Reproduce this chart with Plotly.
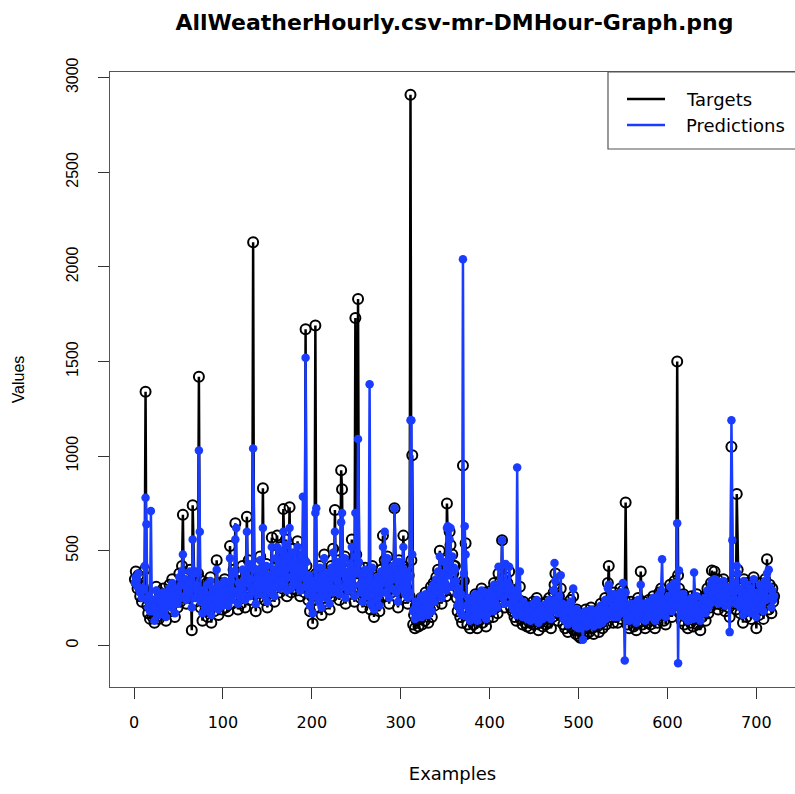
import plotly.graph_objects as go

# Hourly weather model: observed targets vs. model predictions, per example
targets = [
    350, 390, 330, 300, 370, 320, 260, 290, 230, 310, 270, 400, 1340, 280, 210, 170, 240, 140, 270, 190,
    150, 260, 120, 200, 310, 180, 230, 140, 280, 210, 170, 250, 300, 160, 220, 130, 270, 190, 240, 320,
    260, 180, 350, 220, 290, 150, 240, 310, 200, 270, 380, 230, 330, 420, 690, 300, 250, 360, 220, 280,
    330, 250, 400, 310, 80, 740, 360, 290, 230, 310, 270, 380, 1420, 350, 200, 260, 130, 300, 240, 180,
    220, 330, 150, 270, 200, 360, 120, 250, 310, 180, 240, 290, 450, 210, 160, 270, 330, 230, 190, 300,
    260, 350, 200, 310, 240, 180, 290, 525, 330, 220, 280, 400, 350, 645, 300, 250, 190, 340, 280, 220,
    310, 420, 260, 350, 200, 380, 680, 300, 450, 240, 360, 280, 400, 2130, 350, 270, 180, 310, 420, 250,
    330, 470, 280, 390, 830, 300, 240, 360, 430, 200, 310, 380, 260, 340, 570, 290, 410, 230, 350, 480,
    580, 320, 450, 280, 520, 390, 300, 720, 430, 350, 560, 260, 400, 480, 730, 340, 280, 420, 510, 300,
    380, 460, 290, 550, 340, 420, 260, 500, 370, 450, 330, 280, 1670, 420, 300, 240, 360, 180, 310, 260,
    115, 330, 240, 1690, 380, 280, 350, 200, 420, 290, 160, 370, 250, 480, 310, 220, 390, 270, 340, 190,
    300, 420, 260, 510, 350, 715, 280, 400, 330, 450, 240, 380, 925, 825, 350, 290, 470, 220, 360, 300,
    380, 270, 440, 320, 560, 290, 400, 230, 1730, 480, 350, 1830, 420, 300, 250, 380, 200, 330, 270, 410,
    300, 230, 380, 260, 340, 190, 290, 420, 250, 150, 330, 270, 210, 360, 240, 180, 310, 400, 260, 580,
    320, 450, 260, 390, 470, 300, 220, 410, 350, 280, 430, 330, 725, 380, 260, 340, 200, 450, 310, 370,
    290, 420, 580, 340, 250, 400, 300, 220, 370, 260, 2910, 450, 1005, 110, 160, 90, 210, 130, 180, 100,
    200, 140, 250, 110, 180, 230, 130, 280, 170, 220, 120, 260, 190, 310, 150, 240, 330, 210, 280, 360,
    290, 400, 250, 500, 330, 220, 380, 280, 450, 310, 260, 750, 420, 350, 600, 530, 290, 480, 380, 420,
    420, 330, 250, 180, 290, 210, 150, 260, 120, 950, 340, 230, 540, 180, 110, 240, 160, 90, 200, 140,
    230, 110, 180, 270, 150, 90, 210, 130, 250, 170, 300, 120, 200, 160, 280, 100, 220, 140, 190, 260,
    180, 290, 220, 150, 330, 240, 200, 310, 170, 380, 260, 340, 290, 555, 230, 310, 200, 360, 270, 330,
    260, 390, 300, 200, 250, 180, 290, 150, 220, 130, 200, 170, 240, 310, 140, 190, 110, 230, 160, 120,
    180, 100, 150, 210, 120, 90, 170, 140, 230, 110, 160, 200, 250, 130, 80, 180, 120, 150, 220, 100,
    140, 190, 110, 230, 160, 120, 250, 180, 90, 210, 150, 280, 320, 380, 220, 170, 130, 260, 190, 300,
    160, 220, 110, 180, 90, 140, 200, 70, 150, 120, 240, 100, 170, 260, 80, 130, 60, 190, 110, 50,
    120, 40, 160, 80, 50, 140, 90, 190, 60, 110, 170, 70, 130, 200, 90, 150, 60, 180, 110, 140,
    100, 180, 70, 150, 220, 120, 90, 200, 140, 250, 110, 170, 330, 420, 230, 150, 260, 190, 120, 280,
    200, 150, 260, 120, 230, 170, 300, 140, 210, 290, 180, 240, 755, 160, 110, 200, 90, 170, 230, 130,
    190, 100, 220, 150, 80, 180, 250, 120, 200, 390, 160, 110, 230, 140, 90, 210, 170, 120, 240, 150,
    110, 200, 140, 260, 170, 90, 230, 150, 120, 210, 280, 160, 300, 250, 190, 130, 240, 110, 180, 220,
    260, 180, 320, 210, 150, 280, 230, 340, 190, 250, 1500, 370, 300, 170, 240, 130, 200, 270, 110, 190,
    150, 240, 90, 180, 210, 120, 260, 160, 100, 230, 190, 140, 270, 110, 200, 170, 80, 220, 150, 250,
    180, 260, 130, 220, 300, 170, 240, 200, 330, 395, 260, 310, 390, 280, 220, 350, 190, 270, 320, 240,
    300, 210, 350, 260, 180, 320, 240, 280, 200, 150, 330, 1050, 300, 260, 220, 340, 190, 800, 400, 280,
    230, 170, 310, 260, 120, 350, 200, 280, 150, 330, 240, 190, 300, 140, 270, 220, 360, 180, 250, 90,
    210, 280, 160, 330, 240, 190, 300, 140, 260, 350, 220, 455, 280, 190, 320, 240, 170, 300, 230, 260,
]

predictions = [
    330, 360, 350, 310, 380, 300, 280, 300, 250, 290, 300, 420, 780, 640, 240, 200, 260, 180, 710, 220,
    180, 240, 130, 210, 290, 200, 240, 160, 260, 230, 190, 260, 280, 180, 240, 150, 260, 210, 250, 300,
    250, 200, 330, 240, 280, 170, 250, 300, 220, 270, 360, 250, 320, 390, 480, 320, 260, 350, 240, 290,
    320, 270, 390, 330, 200, 560, 380, 300, 250, 320, 290, 390, 1030, 600, 230, 270, 170, 290, 250, 200,
    240, 320, 180, 260, 220, 340, 160, 260, 300, 200, 250, 300, 400, 230, 190, 280, 320, 250, 210, 310,
    270, 340, 230, 300, 260, 210, 300, 460, 340, 240, 290, 390, 380, 560, 620, 270, 220, 330, 290, 250,
    320, 400, 280, 340, 240, 370, 600, 330, 430, 260, 350, 300, 420, 1040, 400, 290, 220, 320, 400, 270,
    340, 450, 300, 380, 620, 330, 260, 350, 420, 230, 320, 370, 280, 350, 520, 310, 400, 260, 360, 460,
    520, 340, 440, 300, 500, 400, 320, 600, 440, 360, 530, 290, 410, 470, 620, 360, 300, 430, 490, 330,
    390, 450, 320, 520, 360, 420, 290, 480, 380, 785, 360, 310, 1520, 440, 320, 270, 370, 210, 320, 280,
    170, 340, 260, 700, 725, 300, 360, 230, 410, 300, 200, 370, 270, 460, 320, 250, 380, 290, 340, 220,
    310, 410, 280, 490, 360, 600, 300, 400, 340, 440, 270, 390, 650, 700, 380, 310, 460, 250, 360, 320,
    390, 290, 430, 340, 520, 310, 400, 260, 700, 470, 380, 1090, 440, 320, 280, 380, 230, 340, 290, 400,
    310, 260, 380, 280, 1380, 220, 300, 410, 270, 190, 330, 290, 240, 360, 260, 210, 320, 390, 280, 520,
    340, 600, 280, 390, 460, 320, 250, 400, 360, 300, 420, 350, 725, 400, 280, 350, 230, 440, 320, 380,
    300, 410, 520, 350, 270, 390, 310, 250, 360, 280, 1190, 1190, 480, 180, 190, 140, 230, 170, 200, 150,
    220, 170, 260, 150, 200, 240, 170, 270, 200, 230, 160, 260, 210, 300, 180, 250, 320, 230, 290, 350,
    300, 390, 270, 470, 340, 250, 380, 300, 440, 330, 290, 620, 630, 370, 560, 620, 310, 470, 390, 410,
    400, 340, 270, 210, 300, 230, 180, 270, 160, 2040, 380, 630, 480, 210, 150, 250, 190, 130, 220, 170,
    240, 150, 200, 270, 180, 130, 220, 160, 250, 190, 290, 160, 210, 190, 280, 140, 230, 170, 210, 260,
    200, 290, 240, 180, 320, 250, 220, 300, 200, 415, 270, 330, 300, 555, 250, 310, 220, 430, 290, 330,
    270, 415, 310, 220, 260, 200, 290, 180, 230, 160, 940, 190, 250, 390, 170, 210, 150, 230, 180, 150,
    190, 140, 170, 210, 150, 130, 180, 160, 220, 140, 170, 200, 240, 160, 120, 190, 150, 170, 210, 140,
    160, 200, 150, 220, 180, 150, 240, 200, 140, 220, 180, 290, 435, 340, 240, 200, 170, 260, 210, 370,
    180, 220, 140, 190, 130, 160, 210, 110, 170, 150, 230, 140, 180, 300, 120, 150, 100, 190, 140, 90,
    140, 90, 170, 110, 30, 150, 120, 180, 100, 130, 170, 110, 150, 190, 120, 160, 100, 180, 140, 150,
    130, 190, 110, 160, 210, 140, 120, 200, 160, 240, 140, 180, 300, 320, 240, 170, 250, 200, 150, 270,
    210, 170, 250, 150, 230, 190, 280, 170, 220, 330, 200, -80, 280, 180, 140, 210, 130, 180, 220, 160,
    200, 140, 220, 170, 120, 190, 240, 150, 210, 320, 180, 140, 220, 160, 130, 210, 180, 150, 230, 170,
    150, 210, 170, 250, 190, 130, 230, 170, 150, 220, 270, 180, 290, 455, 210, 160, 240, 150, 190, 220,
    260, 200, 310, 230, 180, 280, 240, 330, 210, 260, 645, -95, 395, 200, 250, 160, 210, 270, 150, 200,
    170, 240, 130, 190, 210, 150, 250, 180, 140, 385, 200, 160, 260, 150, 210, 180, 130, 220, 170, 240,
    200, 250, 170, 230, 290, 200, 240, 220, 320, 340, 270, 310, 350, 290, 240, 340, 220, 280, 310, 260,
    290, 230, 340, 270, 210, 310, 250, 280, 220, 70, 310, 1190, 555, 280, 240, 330, 220, 420, 380, 290,
    240, 200, 300, 270, 160, 340, 220, 280, 180, 320, 250, 210, 300, 170, 270, 230, 350, 200, 250, 150,
    230, 280, 190, 320, 250, 210, 300, 180, 270, 340, 240, 380, 300, 400, 310, 250, 200, 290, 240, 260,
]

examples = list(range(1, len(targets) + 1))

x_ticks = [0, 100, 200, 300, 400, 500, 600, 700]
y_ticks = [0, 500, 1000, 1500, 2000, 2500, 3000]

BLUE = "#1a3cff"
FONT = "Liberation Sans, Arial, Helvetica, sans-serif"
WIDE = "DejaVu Sans, Verdana, sans-serif"

fig = go.Figure()

fig.add_trace(go.Scatter(
    x=examples, y=targets, mode="lines+markers", name="Targets",
    line=dict(color="black", width=2.5),
    marker=dict(symbol="circle-open", size=10, color="black", line=dict(width=2)),
    showlegend=False,
))
fig.add_trace(go.Scatter(
    x=examples, y=predictions, mode="lines+markers", name="Predictions",
    line=dict(color=BLUE, width=2.5),
    marker=dict(symbol="circle", size=8.5, color=BLUE),
    showlegend=False,
))

# plot area spans x 110..795, y 72..687 in page pixels
L, R, T, B = 110, 795, 72, 687
def px(xp):
    return (xp - L) / (R - L)
def py(yp):
    return (B - yp) / (B - T)

shapes = [
    dict(type="rect", xref="paper", yref="paper", x0=px(608), x1=1.02, y0=py(149), y1=1.0,
         line=dict(color="#555", width=1.2), fillcolor="white", layer="above"),
    dict(type="line", xref="paper", yref="paper", x0=px(627), x1=px(665), y0=py(99), y1=py(99),
         line=dict(color="black", width=2.5), layer="above"),
    dict(type="line", xref="paper", yref="paper", x0=px(627), x1=px(665), y0=py(125), y1=py(125),
         line=dict(color=BLUE, width=2.5), layer="above"),
]
annotations = [
    dict(text="Targets", xref="paper", yref="paper", x=px(684), y=py(99), xanchor="left",
         yanchor="middle", showarrow=False, font=dict(size=18, color="black", family=WIDE)),
    dict(text="Predictions", xref="paper", yref="paper", x=px(684), y=py(125), xanchor="left",
         yanchor="middle", showarrow=False, font=dict(size=18, color="black", family=WIDE)),
]

fig.update_layout(
    width=795, height=794,
    margin=dict(l=L, r=795 - R, t=T, b=794 - B),
    paper_bgcolor="white", plot_bgcolor="white",
    font=dict(family=FONT, color="black", size=16),
    title=dict(text="<b>AllWeatherHourly.csv-mr-DMHour-Graph.png</b>",
               x=(181 + 728) / 2 / 795, xanchor="center", y=1 - 22 / 794, yanchor="middle",
               yref="container", xref="container",
               font=dict(size=22, family=WIDE, color="black")),
    shapes=shapes,
    annotations=annotations,
)

fig.update_xaxes(
    range=[-27, 743.5], tickvals=x_ticks, ticks="outside", ticklen=11, tickwidth=1,
    tickcolor="#333", showline=True, linecolor="#555", linewidth=1.2, mirror=True,
    showgrid=False, zeroline=False, tickfont=dict(size=16, family=WIDE),
    ticklabelstandoff=10,
    title=dict(text="Examples", font=dict(size=18, family=WIDE), standoff=36),
)
fig.update_yaxes(
    range=[-220, 3030], tickvals=y_ticks, ticks="outside", ticklen=11, tickwidth=1,
    tickcolor="#333", showline=True, linecolor="#555", linewidth=1.2, mirror=True,
    showgrid=False, zeroline=False, tickangle=-90, tickfont=dict(size=16),
    ticklabelstandoff=14,
    title=dict(text="Values", font=dict(size=16), standoff=34),
)

fig.write_html("out.html")
